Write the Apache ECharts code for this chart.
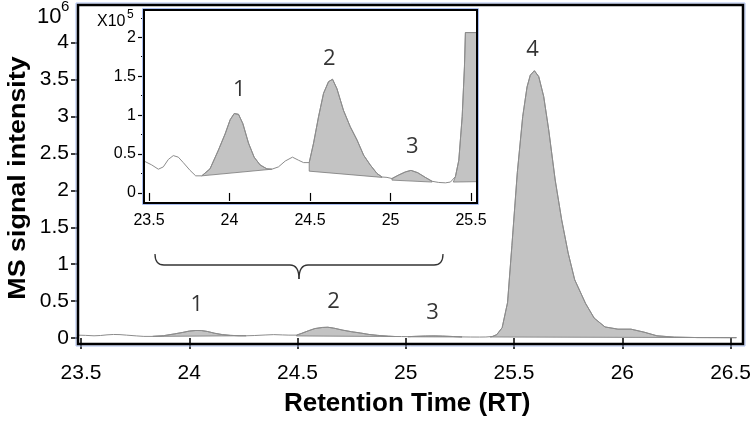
<!DOCTYPE html>
<html>
<head>
<meta charset="utf-8">
<script src="https://cdn.jsdelivr.net/npm/echarts@6/dist/echarts.min.js"></script>
<style>html,body{margin:0;padding:0;background:#fff}#c{width:754px;height:426px}</style>
</head>
<body>
<div id="c"></div>
<script>
// ---- data (x: retention time, min; y main: x10^6; y inset: x10^5) ----
const mainTrace = [
  [23.47,0.040],[23.52,0.036],[23.56,0.030],[23.59,0.034],[23.62,0.043],[23.65,0.048],[23.68,0.046],
  [23.71,0.039],[23.755,0.029],[23.79,0.022],[23.83,0.022],[23.88,0.031],[23.93,0.055],[23.97,0.076],
  [24.00,0.094],[24.03,0.102],[24.056,0.101],[24.083,0.089],[24.118,0.064],[24.153,0.046],[24.19,0.036],
  [24.23,0.031],[24.263,0.0305],[24.30,0.0335],[24.35,0.041],[24.39,0.046],[24.43,0.042],[24.46,0.039],
  [24.495,0.039],[24.52,0.064],[24.55,0.098],[24.58,0.128],[24.615,0.143],[24.64,0.146],[24.667,0.134],
  [24.71,0.106],[24.75,0.085],[24.79,0.068],[24.83,0.0485],[24.87,0.036],[24.92,0.025],[24.95,0.0205],
  [24.98,0.020],[25.01,0.0185],[25.05,0.023],[25.09,0.027],[25.13,0.029],[25.17,0.026],[25.22,0.020],
  [25.26,0.015],[25.30,0.0135],[25.34,0.013],[25.37,0.014],[25.40,0.021],[25.42,0.045],[25.445,0.14],
  [25.47,0.48],[25.49,1.25],[25.515,2.24],[25.54,3.0],[25.56,3.40],[25.575,3.56],[25.594,3.62],
  [25.614,3.54],[25.637,3.27],[25.66,2.82],[25.69,2.14],[25.72,1.60],[25.75,1.15],[25.78,0.79],
  [25.83,0.47],[25.87,0.27],[25.92,0.15],[25.98,0.12],[26.04,0.12],[26.10,0.08],[26.16,0.03],
  [26.24,0.012],[26.35,0.006],[26.527,0.005]
];
const insetTrace = [
  [23.469,0.41],[23.475,0.40],[23.517,0.36],[23.558,0.305],[23.589,0.335],[23.62,0.43],[23.651,0.48],
  [23.682,0.46],[23.713,0.39],[23.755,0.29],[23.79,0.22],[23.828,0.22],[23.879,0.31],[23.931,0.55],
  [23.973,0.76],[24.004,0.94],[24.029,1.02],[24.056,1.01],[24.083,0.89],[24.118,0.64],[24.153,0.46],
  [24.19,0.36],[24.232,0.31],[24.263,0.305],[24.304,0.335],[24.346,0.41],[24.391,0.46],[24.429,0.42],
  [24.46,0.39],[24.495,0.39],[24.522,0.64],[24.553,0.98],[24.584,1.28],[24.615,1.43],[24.64,1.46],
  [24.667,1.34],[24.708,1.06],[24.75,0.85],[24.792,0.68],[24.833,0.485],[24.874,0.36],[24.916,0.25],
  [24.947,0.205],[24.978,0.20],[25.009,0.185],[25.05,0.23],[25.092,0.27],[25.127,0.29],[25.169,0.26],
  [25.216,0.20],[25.258,0.15],[25.299,0.135],[25.341,0.13],[25.372,0.14],[25.403,0.21],[25.424,0.42],
  [25.445,0.98],[25.459,1.62],[25.465,2.06],[25.537,2.06]
];
// integration windows: [start, end, baseline at start, baseline at end]
const mainPeaks = [[23.83,24.263,0.022,0.0305],[24.495,24.95,0.028,0.020],[25.01,25.26,0.0165,0.014],[25.39,26.527,0.014,0.005]];
const insetPeaks = [[23.828,24.263,0.22,0.305],[24.495,24.947,0.28,0.20],[25.009,25.258,0.165,0.14],[25.39,25.537,0.14,0.145]];
const peakNames = ['1','2','3','4'];
const mainLabelPos = [[24.035,0.447],[24.666,0.49],[25.123,0.34],[25.585,3.90]];
const insetLabelPos = [[24.06,1.32],[24.62,1.73],[25.135,0.59]];
const mainXTicks = [23.5,24,24.5,25,25.5,26,26.5];
const mainYTicks = [0,0.5,1,1.5,2,2.5,3,3.5,4];
const insetXTicks = [23.5,24,24.5,25,25.5];
const insetYTicks = [0,0.5,1,1.5,2];
const insetYMinor = [0.25,0.75,1.25,1.75,2.25];

// ---- build ----
function polygonOf(trace, pk){
  const pts = [[pk[0], pk[2]]];
  trace.forEach(p => { if (p[0] >= pk[0] && p[0] <= pk[1]) pts.push(p); });
  pts.push([pk[1], pk[3]]);
  return pts;
}
function peakSeries(trace, pk, xi, yi){
  const pts = polygonOf(trace, pk);
  return {
    type:'custom', xAxisIndex:xi, yAxisIndex:yi, data:pts, clip:true, silent:true, z:2,
    encode:{x:0,y:1},
    renderItem(params, api){
      if (params.dataIndex !== 0) return null;
      return {type:'polygon', shape:{points: pts.map(p => api.coord(p))},
              style:{fill:'#c3c3c3', stroke:'#7a7a7a', lineWidth:0.8}};
    }
  };
}
const FONT = 'Liberation Sans, Arial, sans-serif';
const chart = echarts.init(document.getElementById('c'), null, {renderer:'canvas'});
const series = [];
mainPeaks.forEach(pk => series.push(peakSeries(mainTrace, pk, 0, 0)));
insetPeaks.forEach(pk => series.push(peakSeries(insetTrace, pk, 1, 1)));
series.push({type:'line', xAxisIndex:0, yAxisIndex:0, data:mainTrace, showSymbol:false, silent:true,
  lineStyle:{color:'#8c8c8c', width:1}, z:3});
series.push({type:'line', xAxisIndex:1, yAxisIndex:1, data:insetTrace, showSymbol:false, silent:true,
  lineStyle:{color:'#8c8c8c', width:1}, z:3});
const labelStyle = {show:true, position:'inside', formatter:'{b}', color:'#000', fontSize:22, fontFamily:'Open Sans, Noto Sans, sans-serif'};
series.push({type:'scatter', xAxisIndex:0, yAxisIndex:0, symbolSize:0, silent:true, z:5,
  data: mainLabelPos.map((p,i) => ({name:peakNames[i], value:p})), label:labelStyle});
series.push({type:'scatter', xAxisIndex:1, yAxisIndex:1, symbolSize:0, silent:true, z:5,
  data: insetLabelPos.map((p,i) => ({name:peakNames[i], value:p})), label:labelStyle});

const tickStyle = {color:'#000', width:1.5};
const bracketStyle = {fill:null, stroke:'#333', lineWidth:1.3};
const frameBlue = {fill:null, stroke:'#a9bdf0', lineWidth:1};
const frameBlack = {fill:null, stroke:'#000', lineWidth:2.5};
chart.setOption({
  animation:false,
  grid:[
    {left:78, top:5, width:665, height:339, show:false, containLabel:false},
    {left:144, top:10, width:333, height:193, show:true, borderWidth:0, borderColor:'transparent', backgroundColor:'#fff', containLabel:false}
  ],
  xAxis:[
    {type:'value', gridIndex:0, min:23.486, max:26.527, splitLine:{show:false},
     axisLine:{show:false}, axisTick:{show:true, inside:false, length:11, lineStyle:tickStyle, customValues:mainXTicks},
     axisLabel:{customValues:mainXTicks, color:'#000', fontSize:21, fontFamily:FONT, margin:19},
     name:'Retention Time (RT)', nameLocation:'middle', nameGap:47,
     nameTextStyle:{color:'#000', fontSize:26, fontWeight:'bold', fontFamily:FONT}},
    {type:'value', gridIndex:1, min:23.469, max:25.537, splitLine:{show:false},
     axisLine:{show:false}, axisTick:{show:true, length:8, lineStyle:{color:'#000', width:1.2}, customValues:insetXTicks},
     axisLabel:{customValues:insetXTicks, color:'#000', fontSize:16, fontFamily:FONT, margin:10}}
  ],
  yAxis:[
    {type:'value', gridIndex:0, min:-0.081, max:4.51, splitLine:{show:false},
     axisLine:{show:false}, axisTick:{show:true, length:7, lineStyle:tickStyle, customValues:mainYTicks},
     axisLabel:{customValues:mainYTicks, color:'#000', fontSize:21, fontFamily:FONT, margin:9}},
    {type:'value', gridIndex:1, position:'left', min:-0.129, max:2.35, splitLine:{show:false},
     axisLine:{show:false}, axisTick:{show:true, length:6, lineStyle:{color:'#000', width:1.2}, customValues:insetYTicks},
     axisLabel:{customValues:insetYTicks, color:'#000', fontSize:16, fontFamily:FONT, margin:8}},
    {type:'value', gridIndex:1, position:'left', offset:0, min:-0.129, max:2.35, splitLine:{show:false},
     axisLine:{show:false}, axisTick:{show:true, length:3, lineStyle:{color:'#000', width:1}, customValues:insetYMinor},
     axisLabel:{show:false}}
  ],
  series: series,
  graphic:[
    {type:'rect', z:100, silent:true, shape:{x:76, y:3, width:669, height:343}, style:frameBlue},
    {type:'rect', z:101, silent:true, shape:{x:78, y:5, width:665, height:339}, style:frameBlack},
    {type:'rect', z:100, silent:true, shape:{x:142.5, y:8.5, width:336, height:196}, style:frameBlue},
    {type:'rect', z:101, silent:true, shape:{x:144, y:10, width:333, height:193}, style:{fill:null, stroke:'#000', lineWidth:2}},
    {type:'text', x:18, y:178, rotation:Math.PI/2, scaleX:1.12, z:10,
     style:{text:'MS signal intensity', font:'bold 24px Liberation Sans, Arial, sans-serif', fill:'#000', textAlign:'center', textVerticalAlign:'middle'}},
    {type:'text', x:37, y:17, z:10, style:{text:'10', font:'22px Liberation Sans, Arial, sans-serif', fill:'#000', textAlign:'left', textVerticalAlign:'middle'}},
    {type:'text', x:61, y:7, z:10, style:{text:'6', font:'15px Liberation Sans, Arial, sans-serif', fill:'#000', textAlign:'left', textVerticalAlign:'middle'}},
    {type:'text', x:97, y:22, z:10, style:{text:'X10', font:'16px Liberation Sans, Arial, sans-serif', fill:'#000', textAlign:'left', textVerticalAlign:'middle'}},
    {type:'text', x:127, y:15, z:10, style:{text:'5', font:'12px Liberation Sans, Arial, sans-serif', fill:'#000', textAlign:'left', textVerticalAlign:'middle'}},
    {type:'bezierCurve', z:10, shape:{x1:155,y1:254,cpx1:155,cpy1:265,x2:164,y2:265}, style:bracketStyle},
    {type:'line', z:10, shape:{x1:164,y1:265,x2:290,y2:265}, style:bracketStyle},
    {type:'bezierCurve', z:10, shape:{x1:290,y1:265,cpx1:299,cpy1:265,x2:299,y2:279}, style:bracketStyle},
    {type:'bezierCurve', z:10, shape:{x1:299,y1:279,cpx1:299,cpy1:265,x2:308,y2:265}, style:bracketStyle},
    {type:'line', z:10, shape:{x1:308,y1:265,x2:434,y2:265}, style:bracketStyle},
    {type:'bezierCurve', z:10, shape:{x1:434,y1:265,cpx1:443,cpy1:265,x2:443,y2:254}, style:bracketStyle}
  ]
});
</script>
</body>
</html>
